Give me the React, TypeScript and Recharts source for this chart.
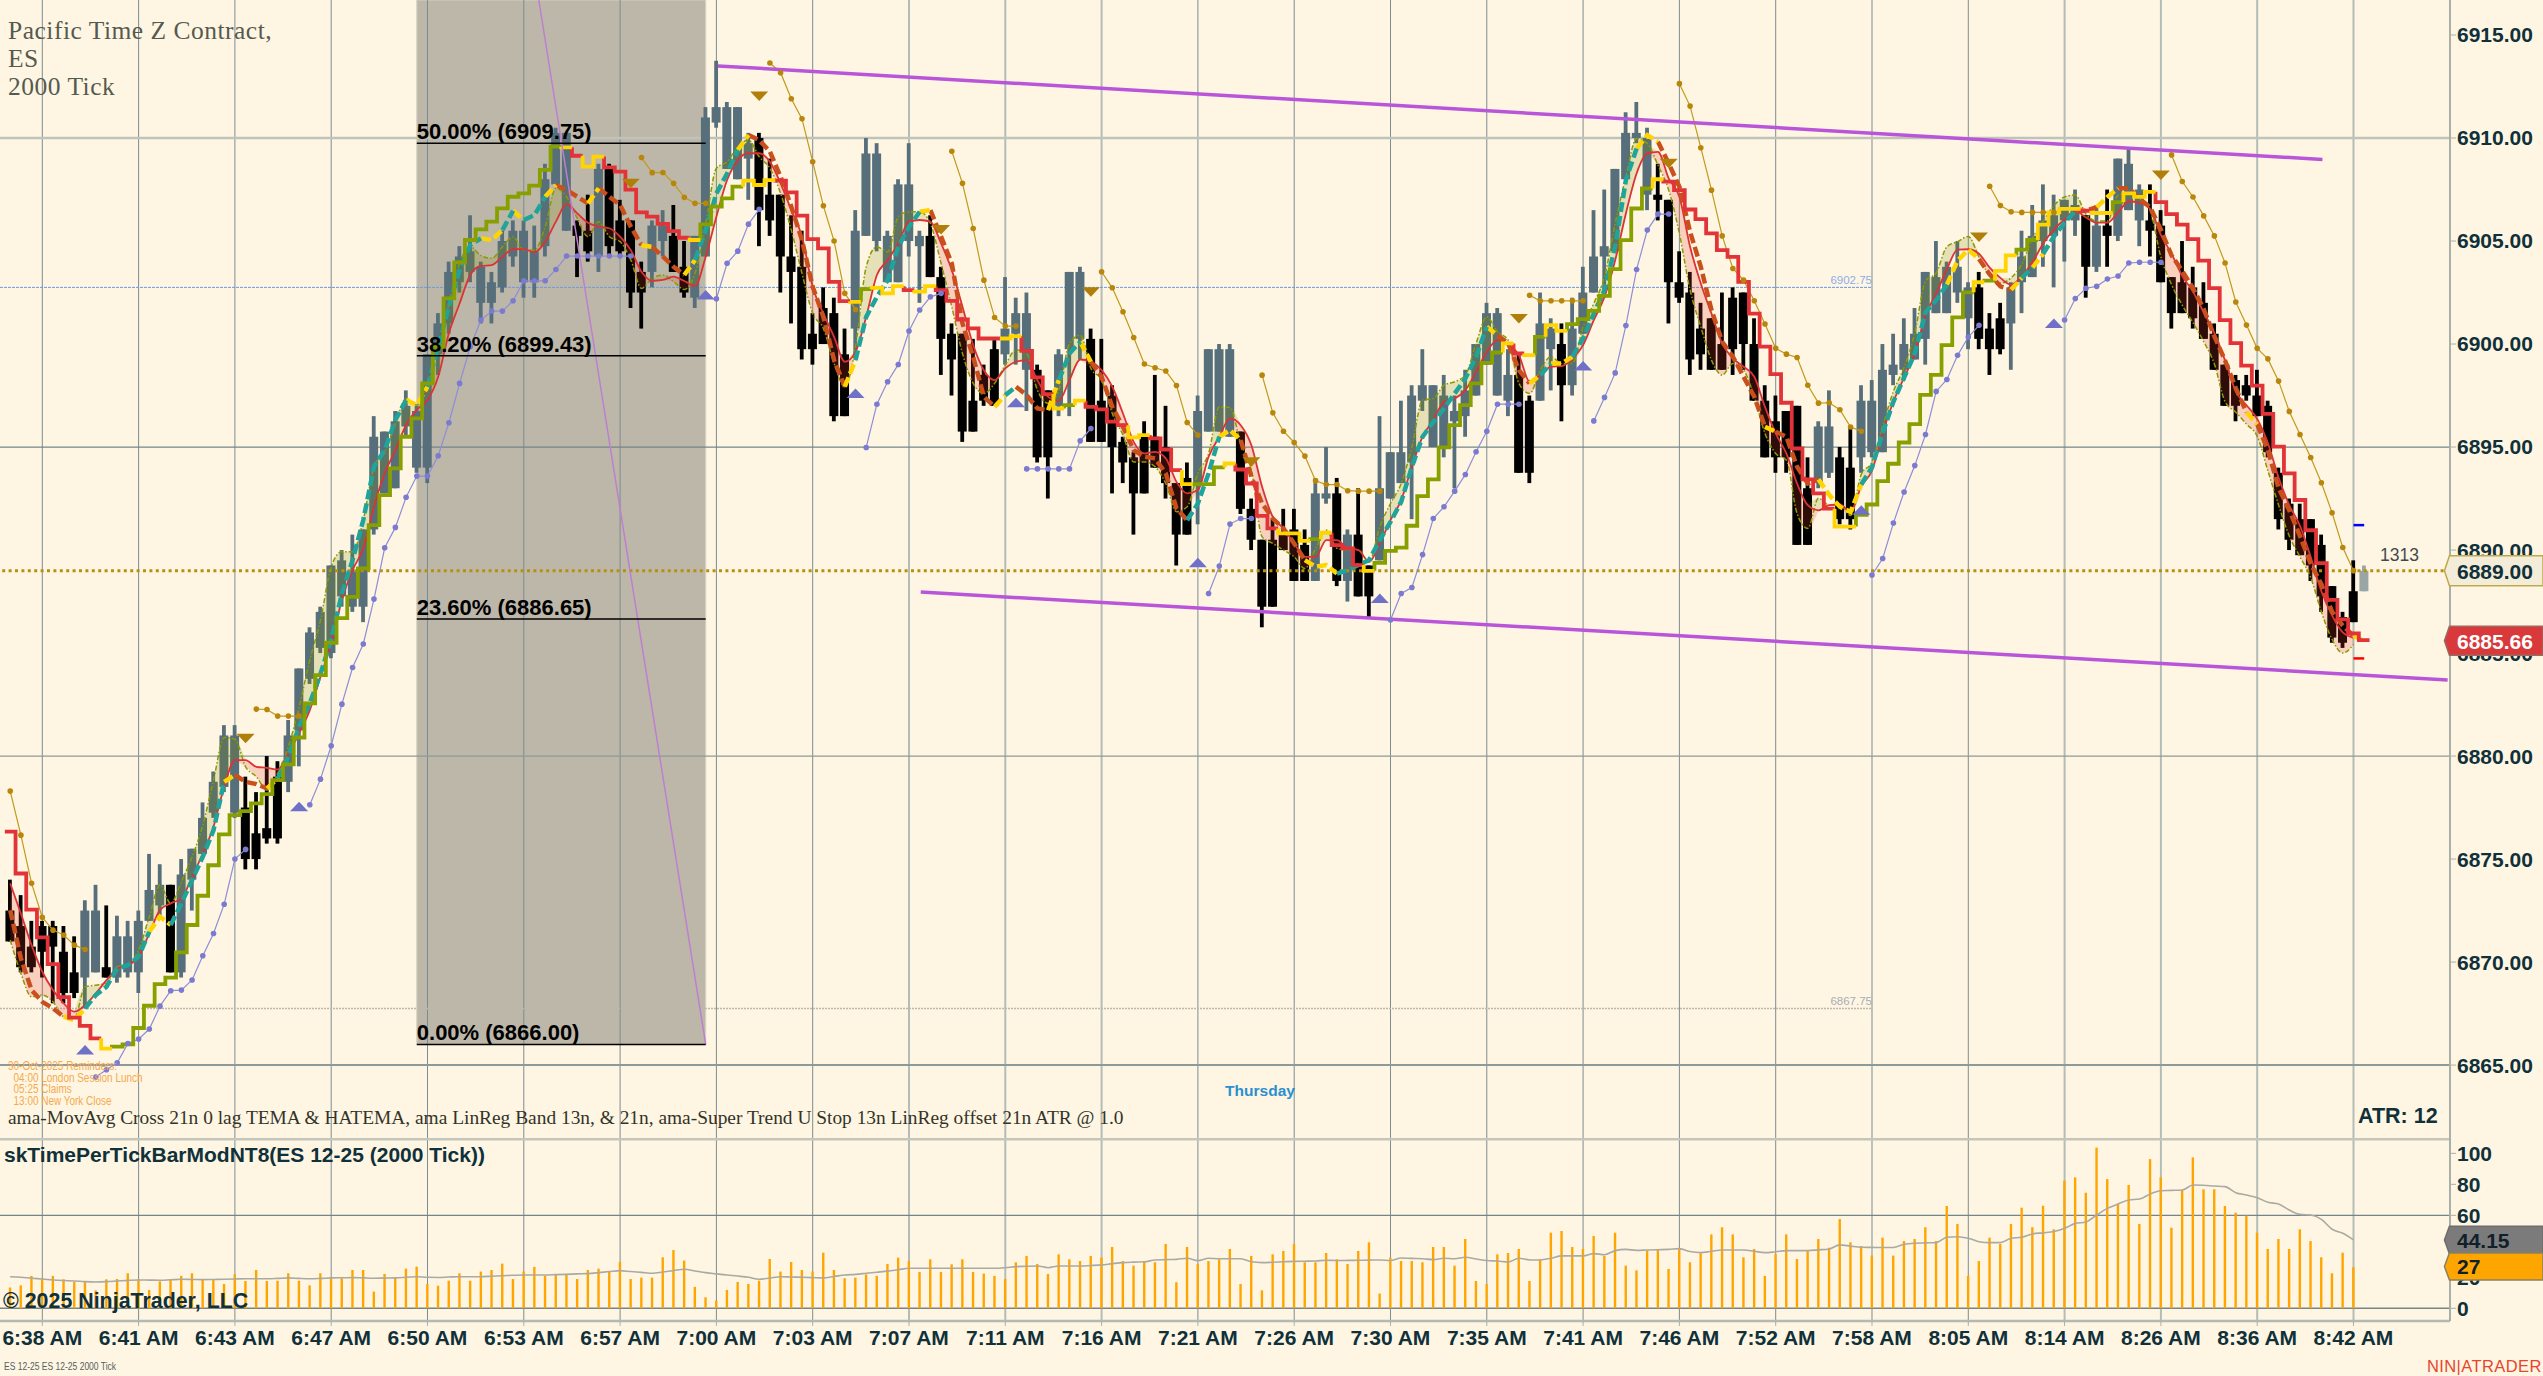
import React from "react";
import { ComposedChart, Bar, Line, Area, XAxis, YAxis, ReferenceLine, ReferenceArea, ReferenceDot } from "recharts";

const highs = [
6874,6873.25,6872,6872,6872,6871.75,6871.25,6873,6873.75,6872.75,
6872.25,6872,6872.5,6875.25,6874.75,6873.75,6875,6875.5,6877.75,6879.25,
6881.5,6881.5,6879,6878.25,6880,6879.75,6881.75,6884.25,6886.25,6887.25,
6889.25,6890,6890.75,6891,6896.5,6895.75,6896.75,6897.75,6897,6899.5,
6901.5,6904,6904.75,6906.25,6904,6903.5,6905.5,6906,6906,6905.75,
6908.75,6910.5,6910.25,6906,6907.25,6908.75,6908.75,6907,6906,6904,
6906,6906.5,6906.75,6905,6905.25,6911.5,6913.75,6911.75,6911.5,6910.25,
6910.25,6909,6907.25,6906.25,6905.5,6901.5,6902.75,6902.25,6900.75,6906.5,
6910,6909.75,6905.5,6908,6909.75,6905.5,6906.25,6903.75,6901,6900.5,
6900.25,6899,6900.25,6903.25,6902.25,6902.5,6899,6897.75,6899.75,6903.5,
6903.75,6900.75,6900.25,6898,6895.5,6894.75,6896.25,6898.5,6897,6893.25,
6894.25,6897.5,6899.75,6900,6900,6895.75,6892.5,6890.5,6891.5,6892,
6892,6891,6893.5,6895,6893.5,6891,6893,6889.25,6896.5,6894.75,
6897.25,6898,6899.75,6898,6898.5,6897.5,6898.75,6900,6902,6901.75,
6899.75,6899.5,6897.5,6902.5,6901.25,6901,6902.25,6903.75,6906.5,6907.5,
6908.5,6911.25,6911.75,6910.5,6908.75,6907,6904.5,6903.5,6902,6901.25,
6902.5,6902.75,6902.5,6901.25,6898,6897.5,6896.75,6897,6894.5,6896.25,
6897.75,6895,6896,6898,6898.25,6900,6900.5,6901.25,6901.75,6903.5,
6905,6904,6905,6903,6903.5,6901.5,6902,6903,6905.5,6906.75,
6907.75,6907.25,6907,6907.5,6906.25,6906.75,6907.5,6909,6909.5,6907.75,
6907.75,6906.5,6903.25,6905,6903.75,6903,6901,6899,6898.5,6898.5,
6898.75,6897.25,6894,6892.5,6892.25,6891.5,6890.75,6888.25,6887,6889.5,6889.25];

const bodyTops = [
6872.5,6871.75,6870.75,6871.75,6871.75,6870.5,6869.5,6872.5,6872.5,6869.75,
6871.25,6871.25,6872,6873.5,6873.75,6873.75,6874.25,6875.5,6877,6878.75,
6881,6881,6877.5,6876.25,6876.5,6879,6881,6884.25,6886,6887,
6889.25,6889.5,6889,6891,6895.5,6895.75,6896.25,6897,6896.75,6899.5,
6901,6903.5,6904.25,6904.5,6903.75,6903,6905,6905.5,6905.5,6904.5,
6908,6910.25,6910.25,6905.75,6905.5,6908.5,6908.5,6906,6906,6903.5,
6905.75,6905.75,6905.25,6903.75,6905.25,6911,6911.5,6911.5,6911.5,6909.75,
6910,6907.25,6907.25,6904.25,6903.75,6900.5,6901.75,6901.5,6899.5,6905.5,
6909.25,6909.25,6905.25,6907.75,6907.75,6905.25,6905.25,6903.25,6900.5,6900.5,
6897.25,6898.5,6899.75,6900.75,6901.5,6901.5,6898.75,6897.75,6899.5,6903.5,
6903.5,6900.25,6897.25,6897.5,6895.25,6894.5,6895.5,6895.5,6895,6893.25,
6893.5,6896.75,6899.75,6899.75,6899.75,6895.75,6892,6890.5,6890.5,6890.75,
6891,6890.25,6892.75,6892.75,6892.75,6890.75,6890.75,6889.25,6893,6894.75,
6894.75,6897.5,6898,6898,6897.5,6896.75,6897.75,6900,6901.5,6901.5,
6898.5,6898.5,6897.25,6901,6900.75,6900,6900.75,6902.5,6904.25,6904.75,
6908.5,6910.25,6910.25,6910,6907.25,6907,6903,6902.5,6900.75,6901.25,
6900,6902.25,6902.5,6900,6897.25,6896.25,6896.75,6897,6893,6896,
6896,6894.5,6894,6897.25,6897.25,6898.75,6899,6900,6900.5,6903.5,
6903.25,6903.75,6903.75,6902.75,6902.75,6900.75,6901.25,6902.75,6904.25,6905.25,
6906,6906.25,6907,6906.75,6906.25,6905.75,6905.75,6909,6908.75,6907.5,
6906,6905.75,6903.25,6903,6902.75,6902,6900.5,6899,6898.25,6898,
6897.5,6897,6893.75,6892.25,6891.5,6891.5,6890.25,6888.25,6886.75,6888,6889];

const bodyBottoms = [
6871,6869.75,6869.75,6870.5,6870.75,6868.5,6868.5,6869.25,6869.5,6869.25,
6869.25,6869.5,6869.5,6872,6872.75,6869.5,6869.5,6874,6875.25,6877.25,
6878.5,6877.25,6875,6875,6876,6876,6878.75,6881.25,6883.75,6885.25,
6885,6887.75,6887.25,6887.25,6891,6892.75,6893,6896,6894,6894,
6899.5,6901,6903,6903.5,6902,6902,6902.75,6904.25,6903,6903,
6904.75,6907.75,6905.5,6905.25,6904.5,6904.25,6904.75,6904.5,6902.5,6902.5,
6903.5,6905,6903.5,6902.5,6902.25,6904.25,6910.75,6908.5,6908,6909,
6906.5,6906,6904.25,6903.5,6899.75,6899.75,6900,6896.5,6896.5,6900.75,
6905.25,6905,6903,6903,6905,6904.75,6903.25,6900.25,6899.25,6895.75,
6895.75,6897.25,6897,6899.5,6900.5,6898.75,6894.5,6894.5,6897,6899.75,
6900.25,6895.25,6895.25,6895,6894.25,6892.75,6892.75,6894,6893.25,6890.75,
6890.75,6893.25,6895.75,6895.75,6895.5,6892,6890.5,6887.25,6887.25,6890,
6888.5,6888.5,6888.5,6892.5,6888.5,6888.5,6887.75,6887.75,6889.5,6892.5,
6893.25,6894.25,6897.25,6895,6895,6896.25,6896.5,6897.5,6899,6897.5,
6897.25,6893.75,6893.75,6897.25,6899.75,6898,6898,6900.5,6902.5,6904.25,
6904.5,6908,6910,6907.25,6907,6903,6902.25,6899.25,6899.5,6898.75,
6898.75,6899.75,6900,6897.25,6894.5,6894.5,6894.5,6890.25,6890.25,6893.25,
6893.75,6891.5,6891.5,6894.5,6894.75,6894.75,6898.5,6898.75,6899.25,6900.25,
6901.5,6901.5,6902.5,6901.25,6900.25,6899.75,6899.75,6901,6903,6903.25,
6905,6905.25,6906,6906,6903.75,6903.75,6905.25,6905.25,6906.5,6906,
6905.5,6903,6901.5,6901.5,6901.25,6900.25,6898.75,6897,6897,6897.5,
6896.5,6894.75,6891.5,6890.5,6889.75,6889.25,6887.75,6885.75,6885.5,6886.5,6888];

const lows = [
6871,6869.5,6869.5,6869.25,6868,6868,6868.25,6867.75,6869.5,6869.25,
6869,6869.25,6868.5,6872,6872.25,6869.5,6869.25,6872.5,6875.25,6877,
6878.25,6877,6874.5,6874.5,6875.75,6875.75,6878.25,6879.5,6883.5,6885,
6884.75,6887.25,6887,6886.5,6890.75,6892.75,6893,6895.5,6893.75,6893.25,
6898.5,6900.5,6902.5,6903,6901,6901,6902.5,6903.75,6902.25,6902.25,
6904.25,6907.75,6905.5,6903.25,6904,6903.5,6904.25,6904.25,6901.75,6900.75,
6902.75,6904.25,6903.5,6902.25,6901.75,6904.25,6910.5,6908.5,6908,6907,
6904.75,6905.25,6902.5,6901,6899.25,6899,6900,6896.25,6896.5,6899.5,
6905.25,6904.5,6903,6903,6904.25,6902,6903.25,6898.5,6897.5,6895.25,
6895.75,6897,6897,6899,6899,6896.75,6894.25,6892.5,6896.5,6896.5,
6899.25,6895.25,6895.25,6892.75,6893.25,6890.75,6892.75,6894,6892.5,6889.25,
6890.75,6891.25,6895.75,6895.75,6895.5,6891.75,6890,6886.25,6887.25,6890,
6888.5,6888.5,6888.5,6892.25,6888.25,6887.5,6887.75,6886.75,6889.5,6892.5,
6893.25,6891.5,6896.75,6895,6894.5,6893,6895.5,6897.5,6899,6897.5,
6896.5,6893.75,6893.25,6897.25,6897.75,6896.25,6897.5,6900.5,6902.5,6902.25,
6904.5,6908,6909.75,6906.5,6906,6901,6902,6898.5,6898.75,6898.75,
6898.75,6898.5,6898.75,6897.25,6894.5,6893.75,6893.75,6890.25,6890.25,6893,
6893.5,6891.25,6891,6893.75,6894.5,6894.75,6898,6898.25,6899.25,6899,
6901.5,6901.5,6902,6899.75,6899.75,6898.5,6899.5,6898.75,6901.5,6903.25,
6903.75,6902.75,6904,6905.25,6902.25,6903.5,6903.75,6905,6906.5,6904.75,
6904.25,6903,6900.75,6901.5,6900.75,6900.25,6898.75,6897,6896.25,6897.25,
6896.5,6894.5,6891,6890,6889.75,6888.5,6887,6885.5,6885.25,6886.5,6888];

const risingBars = [[7,8],[10,14],[16,21],[26,52],[55,55],[60,61],[64,69],[79,85],[93,95],[98,100],[111,114],[122,123],[125,125],[128,140],[143,144],[146,153],[169,170],[173,183],[187,193],[195,195],[197,199],[220,220]];

const stopValues = [
6876.33,6874.3,6872.55,6871.2,6869.9,6868.3,6867.3,6866.9,6866.3,6865.8,
6865.9,6866,6866.8,6867.88,6868.93,6869.24,6870.47,6871.8,6873.22,6874.7,
6876.2,6877.13,6877.33,6877.7,6878.15,6878.83,6879.6,6880.9,6882.56,6883.93,
6885.5,6886.7,6887.73,6889.11,6891.21,6892.67,6893.96,6895.5,6896.39,6898.09,
6899.87,6902.22,6903.96,6905.05,6905.57,6905.94,6906.59,6907.15,6907.31,6907.69,
6908.45,6909.58,6909.55,6909.14,6908.61,6909.1,6908.58,6908.37,6907.5,6906.39,
6906.18,6905.83,6905.48,6905.16,6905.05,6905.81,6906.67,6907.07,6907.64,6907.93,
6907.72,6907.96,6907.93,6907.36,6906.23,6905.09,6904.64,6903.02,6902.08,6902.05,
6902.67,6902.73,6902.46,6902.81,6902.62,6902.54,6902.81,6902.62,6902.1,6901.19,
6900.76,6900.27,6900.27,6900.27,6900.38,6899.67,6898.38,6897.57,6896.87,6897.03,
6897.25,6896.95,6896.83,6896.23,6896.06,6895.47,6895.58,6895.42,6894.88,6893.88,
6893.2,6893.2,6893.2,6894.01,6894.2,6893.91,6893.23,6891.66,6891.05,6890.81,
6890.81,6890.45,6890.53,6890.84,6890.24,6890.08,6889.27,6888.99,6889.38,6889.96,
6890.12,6891.18,6892.62,6893.43,6894.98,6896.06,6897.03,6898.09,6899.09,6899.59,
6900.03,6899.54,6899.46,6900.35,6900.92,6900.64,6900.97,6901.21,6901.61,6902.34,
6903.64,6905.04,6906.58,6907.55,6908,6907.88,6907.47,6906.53,6906.06,6905.37,
6904.56,6904.23,6903.02,6901.48,6899.87,6898.54,6897.15,6894.93,6893.43,6892.75,
6892.01,6891.14,6891.14,6891.71,6892.21,6893.35,6894.19,6895.22,6896.11,6897.53,
6898.5,6899.95,6901.29,6902.51,6903,6903.08,6903.55,6904.3,6904.58,6905.05,
6905.8,6906.39,6906.56,6906.56,6906.47,6906.36,6906.36,6906.89,6907.31,6907.14,
6907.39,6906.89,6906.31,6905.8,6905.09,6904.05,6902.71,6901.16,6900.04,6898.95,
6897.98,6896.61,6895.02,6893.72,6892.43,6890.96,6889.37,6887.58,6886.63,6885.96,6885.63];

// trend state of the stop: [state, last bar of that state]
const stopStates = [["r",8],["y",9],["o",51],["y",52],["r",53],["y",55],["r",63],["y",64],["o",68],["y",71],["r",78],["y",79],["o",80],["y",83],["r",84],["y",86],["r",92],["y",94],["r",97],["y",98],["o",99],["y",100],["r",104],["y",106],["r",109],["y",110],["o",113],["y",114],["r",118],["y",121],["o",122],["y",123],["r",126],["y",127],["o",139],["y",140],["r",141],["y",142],["o",143],["y",145],["o",153],["y",154],["r",170],["y",172],["o",183],["y",184],["o",185],["y",187],["o",189],["y",193],["r",194],["y",196],["o",197],["y",200],["r",220]];

const temaValues = [
6872.52,6870.18,6868.64,6868.07,6867.75,6867.35,6867.18,6867.75,6868.4,6868.8,
6869.69,6869.85,6870.26,6871.47,6872.2,6871.8,6872.85,6873.98,6875.11,6876.4,
6878.75,6879.08,6878.75,6878.64,6878.43,6878.91,6879.97,6881.42,6882.56,6884,
6885.63,6887.9,6889.51,6891.46,6894.05,6894.85,6896.31,6897.28,6897.04,6897.93,
6899.87,6901.81,6903.59,6904.8,6905.13,6905.05,6905.53,6906.47,6906.02,6906.26,
6907.15,6907.72,6907.48,6907.15,6906.83,6907.56,6907.15,6906.75,6905.7,6904.8,
6904.72,6904.24,6903.75,6903.35,6904.08,6905.53,6907.31,6908.28,6909.42,6910.15,
6909.9,6909.34,6908.12,6906.67,6905.05,6902.78,6901.32,6899.22,6897.93,6899.22,
6901.32,6902.29,6903.1,6904.72,6905.69,6906.42,6906.5,6905.21,6903.91,6901,
6899.38,6897.44,6896.95,6897.52,6897.93,6897.52,6896.87,6896.79,6898.25,6899.54,
6900.11,6899.14,6898.41,6896.95,6895.98,6894.85,6894.53,6894.45,6893.72,6892.02,
6891.45,6892.26,6893.72,6895.5,6895.82,6895.34,6893.56,6892.26,6891.53,6891.05,
6890.32,6889.51,6889.19,6889.27,6888.86,6889.02,6889.27,6889.51,6890.48,6891.37,
6892.34,6894.04,6895.5,6896.22,6896.87,6897.6,6898.33,6899.38,6900.84,6900.43,
6900.03,6898.73,6898.09,6898.49,6899.06,6899.06,6899.38,6900.27,6901.48,6902.62,
6904.72,6907.96,6909.49,6910.14,6909.82,6908.77,6907.63,6905.45,6903.75,6901.65,
6900.11,6899.38,6898.41,6897.44,6895.98,6895.74,6895.5,6894.04,6893.23,6893.43,
6892.68,6892.1,6891.85,6893.18,6894.02,6895.69,6897.2,6898.37,6899.54,6901.54,
6902.13,6902.88,6904.05,6904.58,6904.13,6903.38,6902.8,6902.63,6903.21,6903.71,
6904.38,6905.22,6905.89,6906.47,6906.47,6906.64,6907.14,6907.56,6907.56,6907.06,
6906.64,6905.55,6904.3,6903.55,6902.71,6901.71,6900.37,6899.2,6897.86,6896.69,
6896.11,6894.85,6893.02,6891.93,6890.68,6889.34,6888.34,6887,6886.33,6885.83,6885.58];

const temaStates = [["d",4],["y",6],["t",12],["y",14],["t",19],["y",20],["d",23],["y",24],["t",36],["y",38],["t",43],["y",45],["t",46],["y",47],["t",49],["y",50],["d",53],["y",54],["d",58],["y",59],["d",62],["y",63],["t",67],["y",68],["d",77],["y",78],["t",84],["y",85],["d",91],["y",92],["t",93],["d",96],["y",97],["t",99],["y",100],["d",109],["t",112],["y",114],["d",120],["y",123],["t",137],["y",138],["d",141],["y",142],["t",143],["y",145],["t",151],["y",153],["d",163],["y",164],["d",168],["y",172],["t",180],["y",183],["d",186],["y",187],["t",188],["y",189],["t",192],["d",194],["y",196],["d",208],["y",209],["d",218],["y",219],["d",220]];

const linRegSlow = [
6873.82,6872.36,6870.82,6869.53,6868.64,6867.99,6867.59,6867.91,6868.48,6869.12,
6869.69,6869.85,6870.26,6871.39,6872.52,6872.85,6873.09,6874.14,6875.27,6876.57,
6878.51,6879.8,6879.8,6879.48,6879.43,6879.35,6880.13,6881.1,6882.23,6883.85,
6885.47,6887.57,6889.03,6890.08,6892.1,6893.72,6894.85,6896.07,6896.8,6897.28,
6898.41,6900.52,6901.97,6903.35,6903.79,6903.83,6904.24,6904.6,6904.61,6904.45,
6904.97,6905.94,6906.8,6906.34,6905.89,6905.7,6905.62,6905.21,6904.56,6903.51,
6903.07,6903.11,6903.27,6903.06,6902.82,6904.24,6906.18,6907.96,6908.93,6909.26,
6909.26,6908.85,6907.8,6906.5,6905.21,6902.78,6901.48,6900.35,6899.14,6899.62,
6901.32,6903.35,6904.07,6904.88,6905.94,6906.02,6905.94,6904.88,6903.59,6901.81,
6899.95,6898.73,6898.25,6898.82,6899.14,6899.22,6898.25,6897.44,6897.25,6898.25,
6899.25,6899.14,6898.73,6897.93,6896.63,6895.25,6894.69,6894.77,6894.45,6893.31,
6892.75,6892.91,6894.53,6895.5,6896.39,6896.06,6895.09,6893.07,6891.61,6891.05,
6890.32,6889.67,6889.67,6890.48,6890.48,6890.08,6890,6889.43,6890.32,6891.45,
6892.42,6894.04,6895.5,6896.31,6897.2,6897.36,6897.76,6898.65,6899.62,6900.19,
6899.95,6899.46,6898.17,6898.49,6898.9,6898.93,6899.3,6899.95,6901.16,6902.29,
6904.07,6906.34,6908.28,6909.25,6909.33,6908.04,6907.15,6904.72,6902.94,6901.48,
6900.03,6899.3,6898.9,6898.41,6896.95,6895.66,6894.69,6893.23,6892.18,6891.93,
6892.18,6892.21,6891.85,6893.1,6893.85,6895.69,6897.2,6898.37,6899.54,6901.37,
6902.46,6903.63,6904.58,6904.6,6904.38,6903.71,6903.21,6902.88,6903.3,6903.97,
6904.88,6905.55,6906.05,6906.47,6906.14,6905.89,6905.89,6906.39,6906.92,6906.86,
6906.56,6905.3,6904.38,6903.3,6902.54,6901.54,6900.54,6899.2,6897.7,6897.03,
6896.36,6895.19,6893.52,6892.18,6891.18,6889.67,6888,6886.83,6886,6885.74];

const linRegFast = [
6871.07,6869.45,6868.31,6868.4,6868.07,6867.35,6867.27,6868.8,6868.88,6868.96,
6869.77,6869.85,6870.58,6872.2,6873.74,6872.85,6873.9,6875.11,6876.65,6878.83,
6880.9,6880.82,6879.48,6879,6878.35,6879.16,6880.45,6882.39,6884.66,6886.6,
6889.19,6889.92,6889.92,6891.46,6894.05,6894.77,6896.15,6897.36,6897.04,6898.09,
6899.71,6901.97,6903.92,6904.72,6904.29,6904.16,6904.72,6905.21,6904.56,6904.56,
6905.7,6907.56,6907.15,6906.1,6905.21,6905.94,6905.21,6904.97,6904.08,6902.7,
6903.19,6903.35,6903.03,6902.65,6903.43,6905.86,6908.53,6908.85,6909.58,6909.9,
6909.09,6908.53,6907.31,6905.53,6903.43,6901.48,6900.76,6899.06,6897.93,6899.87,
6903.75,6904.72,6904.48,6906.18,6906.42,6906.42,6905.85,6903.91,6901.81,6899.54,
6898.09,6897.6,6898.09,6898.98,6899.71,6899.54,6897.76,6897.12,6897.76,6900.03,
6900.43,6898.82,6898.25,6896.63,6895.58,6894.28,6894.28,6894.04,6893.23,6891.86,
6892.1,6893.72,6894.69,6896.95,6896.92,6895.17,6893.88,6890.64,6890.32,6890,
6889.67,6889.1,6890.08,6890.97,6890.08,6890,6890,6889.43,6891.13,6892.26,
6893.23,6895.01,6897.28,6897.36,6898,6898.17,6898.49,6900.03,6901.32,6900.6,
6900.19,6898.09,6897.6,6898.73,6899.38,6899.06,6899.06,6900.84,6901.97,6903.26,
6905.85,6908.12,6909.98,6909.74,6908.68,6907.47,6905.37,6902.62,6900.84,6899.22,
6898.49,6899.06,6898.73,6897.44,6895.66,6894.69,6894.36,6891.77,6891.05,6892.51,
6892.18,6892.21,6891.68,6893.68,6894.27,6896.03,6897.7,6898.87,6900.54,6903.05,
6903.46,6904.72,6904.97,6905.22,6904.22,6903.3,6902.96,6903.21,6903.88,6905.14,
6905.97,6906.72,6907.14,6907.23,6906.31,6905.97,6905.97,6907.23,6907.31,6907.06,
6906.47,6904.22,6902.88,6901.88,6901.04,6900.12,6899.03,6897.2,6896.69,6896.11,
6895.52,6893.85,6892.18,6890.68,6889.67,6888.67,6887,6885.66,6885,6885.41];

// upper trailing stop, as runs: [first bar, values...]
const upperStopRuns = [
  [0,6878.3,6876.16,6873.82,6872.17,6871.55,6871.31,6870.82,6870.61],
  [23,6882.28,6882.26,6881.94,6881.94,6881.94],
  [59,6909.05,6908.32,6908.33,6907.8,6907.12,6906.83,6906.83],
  [71,6913.64,6913.17,6911.91,6910.93,6908.85,6906.71,6905,6902.46,6901.68],
  [88,6909.36,6907.8,6905.61,6903.1,6901.29,6900.87,6900.87],
  [102,6903.51,6902.73,6901.57,6900.32,6899.03,6898.85,6898.69,6897.99,6896.19,6895.58],
  [117,6898.49,6896.66,6895.77,6895.22,6894.56,6893.36,6893.18,6893.18,6892.88,6892.86,6892.86,6892.86],
  [142,6902.37,6902.1,6902.1,6902.1,6902.1,6902.1],
  [156,6912.64,6911.55,6909.53,6907.47,6905.25,6903.67,6903.1,6902.1,6900.97,6899.79,6899.51,6899.35,6898,6897.13,6897.15,6896.81,6895.97,6895.77],
  [185,6907.66,6906.72,6906.42,6906.39,6906.39,6906.39,6906.39],
  [202,6909.18,6907.89,6907.14,6906.22,6905.25,6903.93,6902.04,6900.92,6899.79,6899.28,6898.2,6896.73,6895.61,6894.49,6893.27,6891.81,6890.12,6889],
];

// lower trailing stop, as runs: [first bar, values...]
const lowerStopRuns = [
  [8,6864.42,6864.77,6865.11,6866.05,6866.26,6866.75,6867.86,6868.61,6868.64,6869.13,6870.31,6871.39,6872.81,6875,6875.47],
  [28,6877.64,6878.88,6880.5,6882.52,6884.3,6885.44,6887.62,6890.11,6891.1,6892.56,6893.59,6893.59,6894.58,6896.18,6898.09,6899.87,6901.17,6901.6,6901.6,6902.1,6903.07,6903.07,6903.07,6903.62,6904.27,6904.27,6904.27,6904.27,6904.27,6904.27,6904.27],
  [66,6902.2,6903.92,6904.51,6905.82,6906.54],
  [80,6894.98,6897.08,6898.17,6899.01,6900.63,6901.65,6902.29,6902.46],
  [95,6893.94,6893.94,6893.94,6893.94,6893.94,6895.3,6895.9],
  [112,6887.89,6889.22,6891.26,6891.53,6891.53],
  [129,6886.6,6887.89,6888.18,6889.78,6891.53,6892.1,6892.86,6893.67,6894.77,6895.77,6897.08,6897.08,6897.08],
  [148,6896.27,6897.41,6898.6,6900.9,6903.62,6905.53,6906.31,6906.31],
  [174,6888.79,6889.59,6891.31,6892.82,6894.1,6895.61,6897.7,6898.28,6899.45,6900.34,6900.91],
  [192,6901.17,6902.21,6902.71,6902.8,6903.16,6903.3,6903.93,6903.97,6903.97,6903.97],
];

const sellSignals = [[22,6880.86],[58,6907.8],[70,6912.04],[87,6905.56],[101,6902.54],[116,6894.28],[141,6901.24],[155,6908.77],[184,6905.19],[201,6908.2]];
const buySignals = [[7,6865.73],[27,6877.54],[65,6902.38],[79,6897.6],[94,6897.15],[111,6889.38],[128,6887.65],[147,6898.93],[173,6891.93],[191,6901]];

const volumes = [
13.5,14.8,20.9,19.4,20.9,18.7,17,17.6,11.6,18.7,
18.9,22.6,18.7,11.8,17.4,18.7,20.9,22.6,18.7,18.7,
15.7,21.9,17.6,24.7,17.6,17.8,22.6,17.8,14.8,22.6,
19.4,19.4,24.7,24.7,10.8,22.2,19.6,25.6,26.9,15.7,
14.6,17.8,22.6,17.8,23.7,24.7,28.8,18.9,23.7,26.7,
20.9,21.5,22.2,18.9,24.7,25.6,23.7,29.9,18.9,19.8,
19.8,32.9,37.6,30.8,13.8,7.1,4.9,11.8,17,15.7,
17.8,31.8,23.7,29.9,24.7,23.7,35.9,24.7,19.4,19.8,
21.9,20.9,28.6,32.7,30.5,23.4,31.6,23.4,28.4,31.6,
23.4,22.4,20.9,18.9,29.7,33.8,28.6,22.2,34.8,31.6,
30.5,33.8,32.7,39.6,30.5,27.5,30.5,29.7,41.5,16.8,
39.6,28.6,30.5,31.6,38.3,15.7,33.8,11.6,34.8,37,
41.5,29.7,29.7,35.7,31.6,28.6,37,42.6,9.5,32.7,
30.5,30.5,29.7,39.6,39.6,27.5,44.7,17.6,15.7,34.8,
35.7,38.3,17.6,31.6,48.8,49.9,39.6,38.3,46.7,33.8,
48.8,27.5,24.5,37.2,38.3,25.4,38.3,29.7,35.5,47.7,
52.3,47.7,32.9,38.3,20.9,35,47.7,31.8,37,44.7,
39.1,57.6,42.6,40.2,34,45.6,34,43.4,44.7,52.3,
43.4,66,54.4,20.9,30.5,45.6,41.5,54.4,64.9,52.3,
66.2,51,82.4,84.5,74.6,103.7,83.4,67.3,79.6,54.4,
96.3,84.5,52,76.3,97.4,76.8,76.8,66,61.7,59.8,
48.8,38.3,44.7,38.3,51,43.4,32.9,22.6,35.9,26.5];

const volumeAverage = [
20.4,20,19.4,18.9,18.3,17.9,17.6,17.2,17,17.2,
17.6,18,18.3,18.2,18.1,18.4,18.7,18.6,18.5,18.6,
18.7,18.9,19.1,19.1,19.1,19.3,19.6,19.3,19.1,19.3,
19.6,19.7,19.8,19.6,19.4,19.5,19.6,20,20.4,20,
19.9,20.2,20.4,20.4,20.4,20.7,21,21.3,21.5,21.5,
21.5,21.7,21.9,22.2,22.4,23,23.7,24.3,23.7,23.2,
22.6,23.4,24.3,25.2,24.1,23,22.2,21.5,20.8,20,
18.7,19.5,20.4,20.2,20,19.8,19.6,20.5,21.5,
21.9,22.6,23.3,24,24.9,25.8,25.8,25.8,25.8,25.8,25.8,25.8,25.8,25.8,
26.2,26.9,27.1,27.3,26.2,27.3,27.3,27.3,27.6,28,28.8,29.5,29.8,30,31.2,31.4,31.6,32.3,30.8,32.3,32,32,32,
30,29.5,29.7,30,30.3,30.4,30.5,31,30.8,30.9,31,31.1,31.2,30.8,32.5,32.2,32,31.4,32.3,32,32.9,31.8,30.8,30.5,29.9,
32.3,31.2,31.2,32.3,33.8,33.8,33.8,35.3,34.6,37.2,38,37.4,37.6,37.8,38,38.5,36.6,
35.9,36.8,37.6,37.6,37.6,36.8,35.9,36.5,37.2,37.2,37.2,37.7,38.3,40.9,40.1,39.4,39.3,39.2,39.2,41.3,42,42.2,42.4,
45.8,46.2,45.2,43,42.4,42.4,45.2,45.8,48,48.7,49.5,51.6,54.8,55.7,60.2,64.5,67.3,69.9,70.5,73.8,75.9,76.1,76.3,
79.6,79.4,78.9,78.5,74.6,73.1,71.4,68.4,67.3,63.4,60.6,60.2,57.4,51,48.4,44.1];

const timeLabels = ["6:38 AM","6:41 AM","6:43 AM","6:47 AM","6:50 AM","6:53 AM","6:57 AM","7:00 AM","7:03 AM","7:07 AM","7:11 AM","7:16 AM","7:21 AM","7:26 AM","7:30 AM","7:35 AM","7:41 AM","7:46 AM","7:52 AM","7:58 AM","8:05 AM","8:14 AM","8:26 AM","8:36 AM","8:42 AM"];
const timeBars = timeLabels.map((_, k) => 3 + 9 * k);
const priceTicks = [6865,6870,6875,6880,6885,6890,6895,6900,6905,6910,6915];
const volumeTicks = [0,20,40,60,80,100];
const fibLevels = [["0.00% (6866.00)",6866],["23.60% (6886.65)",6886.65],["38.20% (6899.43)",6899.43],["50.00% (6909.75)",6909.75]];
const upperChannel = [[66.15,6913.5],[216.1,6908.96]];
const lowerChannel = [[85.1,6887.96],[227.8,6883.69]];
const fibDiagonal = [[49.4,6916.7],[65,6866]];

const SANS = "'Liberation Sans', Arial, sans-serif";
const SERIF = "'Liberation Serif', serif";
const PAPER = "#fef6e3";
const INK = "#10303a";
const X_DOMAIN = [-0.953, 228.02];
const PRICE_DOMAIN = [6861.46, 6916.7];
const VOLUME_DOMAIN = [-8.2, 109.9];

function expand(runs: number[][]) {
  const out: (number | null)[] = new Array(highs.length).fill(null);
  runs.forEach((r) => r.slice(1).forEach((v, k) => { out[r[0] + k] = v; }));
  return out;
}
const upperStop = expand(upperStopRuns);
const lowerStop = expand(lowerStopRuns);
const sellAt = expand(sellSignals);
const buyAt = expand(buySignals);
const isUp = (i: number) => risingBars.some(([a, b]) => i >= a && i <= b);

const rows = highs.map((high, i) => {
  const r = linRegSlow[i] ?? null;
  const f = linRegFast[i] ?? null;
  const has = (j: number, up: boolean) => linRegSlow[j] != null && (up ? linRegFast[j] >= linRegSlow[j] : linRegFast[j] < linRegSlow[j]);
  const near = (up: boolean) => has(i - 1, up) || has(i, up) || has(i + 1, up);
  return {
    x: i, high, low: lows[i], bodyTop: bodyTops[i], bodyBottom: bodyBottoms[i],
    up: isUp(i), last: i === 220, range: [lows[i], high],
    slow: r, fast: f,
    upBand: r != null && near(true) ? [r, Math.max(r, f as number)] : null,
    downBand: r != null && near(false) ? [Math.min(r, f as number), r] : null,
    upperStop: upperStop[i], lowerStop: lowerStop[i], sell: sellAt[i], buy: buyAt[i],
    volume: volumes[i] ?? null, volumeAvg: volumeAverage[i] ?? null,
  };
});

function stepSeries(state: string) {
  const pts: { x: number; v: number | null }[] = [];
  let start = 0;
  stopStates.forEach(([s, end]: any) => {
    if (s === state) {
      if (start > 0) pts.push({ x: start - 0.5, v: stopValues[start - 1] });
      for (let i = start; i <= end; i++) pts.push({ x: i - 0.5, v: stopValues[i] });
      pts.push({ x: end + 0.5, v: stopValues[end] });
      pts.push({ x: end + 0.5, v: null });
    }
    start = end + 1;
  });
  return pts;
}
function dashSeries(state: string) {
  const pts: { x: number; v: number | null }[] = [];
  let start = 0;
  temaStates.forEach(([s, end]: any) => {
    if (s === state) {
      for (let i = start; i <= Math.min(end + 1, 220); i++) pts.push({ x: i, v: temaValues[i] });
      pts.push({ x: end + 1, v: null });
    }
    start = end + 1;
  });
  return pts;
}

const Candle = (p: any) => {
  const d = p.payload;
  const span = d.high - d.low;
  const h = Math.abs(p.height);
  const y = p.height < 0 ? p.y + p.height : p.y;
  const k = span > 0 ? h / span : 0;
  const cx = p.x + p.width / 2;
  const fill = d.last ? "#9aa6a6" : d.up ? "#566f7a" : "#000000";
  return (
    <g fill={fill}>
      <rect x={cx - 1.9} y={y} width={3.8} height={h} />
      <rect x={cx - 4.5} y={y + (d.high - d.bodyTop) * k} width={9} height={Math.max((d.bodyTop - d.bodyBottom) * k, 1.5)} />
    </g>
  );
};
const TriDown = (p: any) => p.value == null || p.cy == null ? <g key={p.index} /> : (
  <polygon key={p.index} points={`${p.cx - 9},${p.cy - 4.5} ${p.cx + 9},${p.cy - 4.5} ${p.cx},${p.cy + 5}`} fill="#b07f0a" />
);
const TriUp = (p: any) => p.value == null || p.cy == null ? <g key={p.index} /> : (
  <polygon key={p.index} points={`${p.cx - 9},${p.cy + 4.5} ${p.cx + 9},${p.cy + 4.5} ${p.cx},${p.cy - 5}`} fill="#6f70c8" />
);
const labelShape = (text: string, o: any) => (p: any) => (
  <text x={p.cx + (o.dx || 0)} y={p.cy + (o.dy || 0)} fontFamily={SANS} fontSize={o.size} fontWeight={o.weight || 400} fill={o.fill} textAnchor={o.anchor || "start"}>{text}</text>
);
const flagShape = (text: string, o: any) => (p: any) => (
  <g>
    <polygon points={`${p.cx},${p.cy} ${p.cx + 5},${p.cy - o.h / 2} 2543,${p.cy - o.h / 2} 2543,${p.cy + o.h / 2} ${p.cx + 5},${p.cy + o.h / 2}`} fill={o.bg} stroke={o.border} strokeWidth={1.5} />
    <text x={2457} y={p.cy + 8} fontFamily={SANS} fontSize={21} fontWeight={700} fill={o.fg}>{text}</text>
  </g>
);

const tickFont = { fontFamily: SANS, fontSize: 21, fontWeight: 700, fill: INK };
const plain = { isAnimationActive: false, legendType: "none" as const };
const lightGrid = new Set([84, 93, 102, 192, 201, 210, 219]);
const flat = { top: 0, right: 0, bottom: 0, left: 0 };

const xAxisGrid = timeBars.map((t) => (
  <ReferenceLine key={t} x={t} stroke={lightGrid.has(t) ? "#b4bcb8" : "#7d8c92"} strokeWidth={lightGrid.has(t) ? 2 : 1} ifOverflow="visible" zIndex={-100} />
));

export default function App() {
  return (
    <div style={{ position: "absolute", left: 0, top: 0, width: 2543, height: 1376, background: PAPER, overflow: "hidden" }}>
      <div style={{ position: "absolute", left: 0, top: 0 }}>
        <ComposedChart width={2543} height={1138} data={rows} margin={flat} style={{ overflow: "visible" }}>
          <XAxis dataKey="x" type="number" domain={X_DOMAIN} allowDataOverflow hide />
          <YAxis orientation="right" width={93} domain={PRICE_DOMAIN} allowDataOverflow ticks={priceTicks} interval={0}
            tick={tickFont} tickLine={{ stroke: "#a9b0aa" }} tickSize={6} tickMargin={1} axisLine={{ stroke: "#a9b0aa", strokeWidth: 2 }} tickFormatter={(v: number) => v.toFixed(2)} />
          <ReferenceArea x1={38} x2={65} y1={6866} y2={6916.7} fill="#bdb7a9" fillOpacity={1} stroke="#d6d0bf" strokeWidth={1} ifOverflow="visible" zIndex={-200} />
          {xAxisGrid}
          <ReferenceLine y={6910} stroke="#bfc3b9" strokeWidth={2.5} zIndex={-100} />
          <ReferenceLine y={6895} stroke="#74858a" strokeWidth={1.3} zIndex={-100} />
          <ReferenceLine y={6880} stroke="#8d9a9a" strokeWidth={1.3} zIndex={-100} />
          <ReferenceLine y={6865} stroke="#8d9a9a" strokeWidth={2} zIndex={-100} />
          <ReferenceLine segment={[{ x: -0.953, y: 6902.75 }, { x: 174, y: 6902.75 }]} stroke="#6a9ae0" strokeWidth={1} strokeDasharray="3 1" zIndex={-100} />
          <ReferenceLine segment={[{ x: -0.953, y: 6867.75 }, { x: 174, y: 6867.75 }]} stroke="#bdb8a8" strokeWidth={1.5} strokeDasharray="2 1" zIndex={-100} />
          <ReferenceLine y={6889} stroke="#b8900f" strokeWidth={3} strokeDasharray="3 3.4" />

          <Bar dataKey="range" barSize={9} shape={Candle} {...plain} />
          <Area dataKey="upBand" type="monotone" stroke="none" fill="rgb(130,140,0)" fillOpacity={0.2} dot={false} activeDot={false} zIndex={350} {...plain} />
          <Area dataKey="downBand" type="monotone" stroke="none" fill="rgb(230,60,40)" fillOpacity={0.2} dot={false} activeDot={false} zIndex={350} {...plain} />
          <Line dataKey="upperStop" type="linear" stroke="#c09a1c" strokeWidth={1.2} dot={{ r: 2.8, fill: "#b8860b", stroke: "none" }} activeDot={false} {...plain} />
          <Line dataKey="lowerStop" type="linear" stroke="#8d8dd8" strokeWidth={1.2} dot={{ r: 2.8, fill: "#7a7ad0", stroke: "none" }} activeDot={false} {...plain} />
          <Line dataKey="fast" type="monotone" stroke="#8a9a00" strokeWidth={1.5} strokeDasharray="5 2 1.5 2" dot={false} activeDot={false} {...plain} />
          <Line dataKey="slow" type="monotone" stroke="#dc3236" strokeWidth={1.8} dot={false} activeDot={false} {...plain} />
          <Line data={dashSeries("d")} dataKey="v" type="linear" stroke="#c9501c" strokeWidth={4.5} strokeDasharray="10 4" dot={false} activeDot={false} {...plain} />
          <Line data={dashSeries("y")} dataKey="v" type="linear" stroke="#ffd400" strokeWidth={4.5} strokeDasharray="10 4" dot={false} activeDot={false} {...plain} />
          <Line data={dashSeries("t")} dataKey="v" type="linear" stroke="#1fa39b" strokeWidth={4.5} strokeDasharray="10 4" dot={false} activeDot={false} {...plain} />
          <Line data={stepSeries("o")} dataKey="v" type="stepAfter" stroke="#889f00" strokeWidth={3.8} dot={false} activeDot={false} {...plain} />
          <Line data={stepSeries("r")} dataKey="v" type="stepAfter" stroke="#e13338" strokeWidth={3.8} dot={false} activeDot={false} {...plain} />
          <Line data={stepSeries("y")} dataKey="v" type="stepAfter" stroke="#ffd400" strokeWidth={3.8} dot={false} activeDot={false} {...plain} />
          <Line dataKey="sell" stroke="none" dot={TriDown} activeDot={false} {...plain} />
          <Line dataKey="buy" stroke="none" dot={TriUp} activeDot={false} {...plain} />

          <ReferenceLine segment={fibDiagonal.map(([x, y]) => ({ x, y }))} stroke="#bf7fd0" strokeWidth={1.5} ifOverflow="visible" />
          {fibLevels.map(([t, y]: any) => (
            <ReferenceLine key={t} segment={[{ x: 38, y }, { x: 65, y }]} stroke="#000000" strokeWidth={1.5} ifOverflow="visible" />
          ))}
          {fibLevels.map(([t, y]: any) => (
            <ReferenceDot key={t + "l"} x={38} y={y} r={0} ifOverflow="visible" shape={labelShape(t, { dy: -4, size: 22, weight: 700, fill: "#000000" })} />
          ))}
          <ReferenceLine segment={upperChannel.map(([x, y]) => ({ x, y }))} stroke="#b955d8" strokeWidth={3.5} ifOverflow="visible" />
          <ReferenceLine segment={lowerChannel.map(([x, y]) => ({ x, y }))} stroke="#b955d8" strokeWidth={3.5} ifOverflow="visible" />
          <ReferenceLine segment={[{ x: 219, y: 6891.21 }, { x: 220, y: 6891.21 }]} stroke="#0000ff" strokeWidth={2.5} />
          <ReferenceLine segment={[{ x: 219, y: 6884.74 }, { x: 220, y: 6884.74 }]} stroke="#ff0000" strokeWidth={2.5} />
          <ReferenceDot x={174} y={6902.75} r={0} ifOverflow="visible" shape={labelShape("6902.75", { dy: -3, size: 11.5, fill: "#8eaee8", anchor: "end" })} />
          <ReferenceDot x={174} y={6867.75} r={0} ifOverflow="visible" shape={labelShape("6867.75", { dy: -3, size: 11.5, fill: "#a8adb4", anchor: "end" })} />
        </ComposedChart>
      </div>

      <div style={{ position: "absolute", left: 0, top: 1138 }}>
        <ComposedChart width={2543} height={238} data={rows} margin={flat} style={{ overflow: "visible" }}>
          <XAxis dataKey="x" type="number" domain={X_DOMAIN} allowDataOverflow ticks={timeBars} interval={0} height={55}
            tickFormatter={(v: number) => timeLabels[(v - 3) / 9]} tick={tickFont} tickSize={5} tickMargin={4}
            tickLine={{ stroke: "#a9b0aa" }} axisLine={{ stroke: "#b4bab2", strokeWidth: 2.5 }} />
          <YAxis orientation="right" width={93} domain={VOLUME_DOMAIN} allowDataOverflow ticks={volumeTicks} interval={0}
            tick={tickFont} tickLine={{ stroke: "#a9b0aa" }} tickSize={6} tickMargin={1} axisLine={{ stroke: "#a9b0aa", strokeWidth: 2 }} />
          {xAxisGrid}
          <ReferenceLine y={109.9} stroke="#c4c6bc" strokeWidth={5} ifOverflow="visible" />
          <ReferenceLine y={60} stroke="#74858a" strokeWidth={1.3} zIndex={-100} />
          <ReferenceLine y={0} stroke="#74858a" strokeWidth={1.5} zIndex={-100} />
          <Bar dataKey="volume" barSize={2.4} fill="#ffa500" {...plain} />
          <Line dataKey="volumeAvg" type="monotone" stroke="#aaa9a2" strokeWidth={1.6} dot={false} activeDot={false} {...plain} />
        </ComposedChart>
      </div>

      <div style={{ position: "absolute", left: 0, top: 0 }}>
        <ComposedChart width={2543} height={1138} data={rows} margin={{ top: 0, right: 93, bottom: 0, left: 0 }} style={{ overflow: "visible" }}>
          <XAxis dataKey="x" type="number" domain={X_DOMAIN} allowDataOverflow hide />
          <YAxis domain={PRICE_DOMAIN} allowDataOverflow hide />
          <ReferenceDot x={227.5} y={6889} r={0} ifOverflow="visible" shape={flagShape("6889.00", { h: 30, bg: "#f3ecd8", border: "#bda94a", fg: INK })} />
          <ReferenceDot x={227.5} y={6885.6} r={0} ifOverflow="visible" shape={flagShape("6885.66", { h: 29, bg: "#d9393a", border: "#9a6a60", fg: "#ffffff" })} />
        </ComposedChart>
      </div>
      <div style={{ position: "absolute", left: 0, top: 1138 }}>
        <ComposedChart width={2543} height={183} data={rows} margin={{ top: 0, right: 93, bottom: 0, left: 0 }} style={{ overflow: "visible" }}>
          <XAxis dataKey="x" type="number" domain={X_DOMAIN} allowDataOverflow hide />
          <YAxis domain={VOLUME_DOMAIN} allowDataOverflow hide />
          <ReferenceDot x={227.5} y={44.15} r={0} ifOverflow="visible" shape={flagShape("44.15", { h: 27.5, bg: "#7b7b7b", border: "#6d6d6d", fg: "#10202a" })} />
          <ReferenceDot x={227.5} y={27} r={0} ifOverflow="visible" shape={flagShape("27", { h: 27, bg: "#ffa500", border: "#8a8060", fg: "#10202a" })} />
        </ComposedChart>
      </div>

      <div style={{ position: "absolute", left: 8, top: 17, fontFamily: SERIF, fontSize: 25.5, letterSpacing: 0.5, lineHeight: "28px", color: "#555a50", whiteSpace: "pre" }}>
        {"Pacific Time Z Contract,\nES\n2000 Tick"}
      </div>
      <div style={{ position: "absolute", left: 8, top: 1061, fontFamily: SANS, fontSize: 12, lineHeight: "11.7px", color: "#f5a94f", whiteSpace: "pre", transform: "scaleX(0.83)", transformOrigin: "left top" }}>
        {"30-Oct-2025 Reminders:\n  04:00 London Session Lunch\n  05:25 Claims\n  13:00 New York Close"}
      </div>
      <div style={{ position: "absolute", left: 1224, top: 1082, width: 72, textAlign: "center", fontFamily: SANS, fontSize: 15.5, fontWeight: 700, color: "#2a8fd0" }}>Thursday</div>
      <div style={{ position: "absolute", left: 8, top: 1107, fontFamily: SERIF, fontSize: 19.4, color: "#333328", whiteSpace: "pre" }}>
        ama-MovAvg Cross 21n 0 lag TEMA &amp; HATEMA, ama LinReg Band 13n, &amp; 21n, ama-Super Trend U Stop 13n LinReg offset 21n ATR @ 1.0
      </div>
      <div style={{ position: "absolute", left: 2358, top: 1104, fontFamily: SANS, fontSize: 21.5, fontWeight: 700, color: INK, whiteSpace: "pre" }}>ATR: 12</div>
      <div style={{ position: "absolute", left: 2380, top: 545, fontFamily: SANS, fontSize: 17.5, color: "#444a4c" }}>1313</div>
      <div style={{ position: "absolute", left: 4, top: 1143, fontFamily: SANS, fontSize: 21, fontWeight: 700, color: INK, whiteSpace: "pre" }}>skTimePerTickBarModNT8(ES 12-25 (2000 Tick))</div>
      <div style={{ position: "absolute", left: 3, top: 1289, fontFamily: SANS, fontSize: 21.4, fontWeight: 700, color: INK, whiteSpace: "pre" }}>© 2025 NinjaTrader, LLC</div>
      <div style={{ position: "absolute", left: 4, top: 1360, fontFamily: SANS, fontSize: 10.5, color: "#55605f", whiteSpace: "pre", transform: "scaleX(0.81)", transformOrigin: "left top" }}>ES 12-25 ES 12-25 2000 Tick</div>
      <div style={{ position: "absolute", left: 2427, top: 1357, fontFamily: SANS, fontSize: 16.5, letterSpacing: 0.4, color: "#e8452c", whiteSpace: "pre" }}>NIN|ATRADER</div>
    </div>
  );
}
